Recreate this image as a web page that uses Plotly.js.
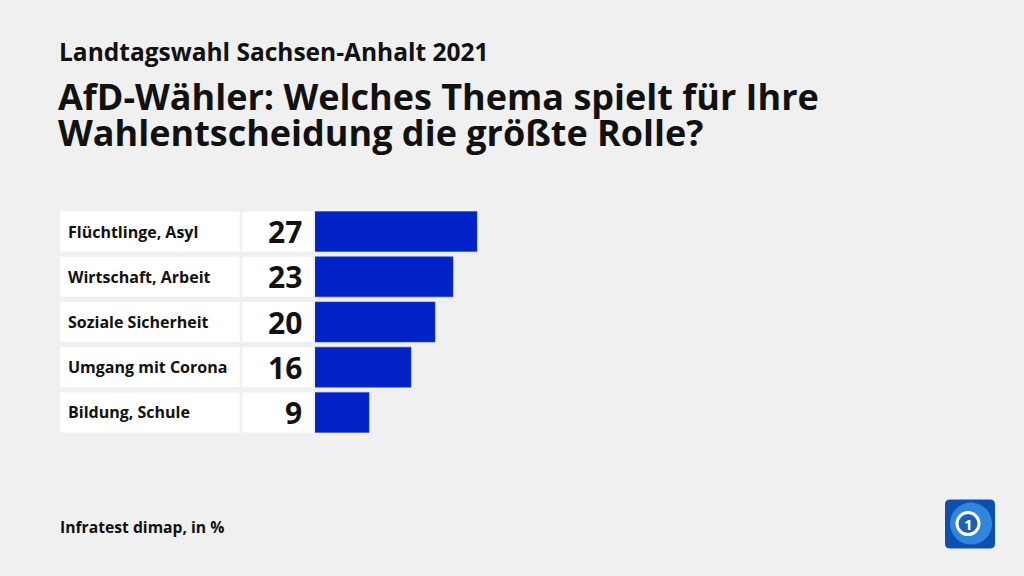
<!DOCTYPE html>
<html><head><meta charset="utf-8">
<script src="https://cdn.plot.ly/plotly-3.0.1.min.js"></script>
<style>html,body{margin:0;padding:0;background:#f0f0f0;}#chart{width:1024px;height:576px;}</style>
</head><body><div id="chart"></div>
<script>
const categories = ["Flüchtlinge, Asyl", "Wirtschaft, Arbeit", "Soziale Sicherheit", "Umgang mit Corona", "Bildung, Schule"];
const values = [27, 23, 20, 16, 9];
const valueLabels = ["27", "23", "20", "16", "9"];
const supertitle = "Landtagswahl Sachsen-Anhalt 2021";
const titleLines = ["AfD-Wähler: Welches Thema spielt für Ihre", "Wahlentscheidung die größte Rolle?"];
const source = "Infratest dimap, in %";

const W = 1024, H = 576;
const L = 315, R = 9, T = 209.4, B = 140.6;
const PW = W - L - R, PH = H - T - B;
const px = x => (x - L) / PW;
const py = y => (H - B - y) / PH;
const FONT = "'Open Sans', 'Noto Sans', sans-serif";
const BLUE = "#0022c6";

const shapes = [];
const annotations = [];
categories.forEach((c, i) => {
  shapes.push({type: "rect", xref: "paper", yref: "y", x0: px(60), x1: px(239.5), y0: i - 0.4425, y1: i + 0.4425, fillcolor: "#ffffff", line: {width: 0}, layer: "below"});
  shapes.push({type: "rect", xref: "paper", yref: "y", x0: px(242.5), x1: px(313), y0: i - 0.4425, y1: i + 0.4425, fillcolor: "#ffffff", line: {width: 0}, layer: "below"});
  annotations.push({xref: "paper", yref: "y", x: px(66), y: i, xanchor: "left", yanchor: "middle", text: "<b>" + c + "</b>", showarrow: false, font: {family: FONT, size: 16, color: "#111"}});
  annotations.push({xref: "paper", yref: "y", x: px(304), y: i, xanchor: "right", yanchor: "middle", text: "<b>" + valueLabels[i] + "</b>", showarrow: false, font: {family: FONT, size: 30, color: "#111"}});
});
annotations.push({xref: "paper", yref: "paper", x: px(57), y: py(52), xanchor: "left", yanchor: "middle", text: "<b>" + supertitle + "</b>", showarrow: false, font: {family: FONT, size: 24.5, color: "#111"}});
annotations.push({xref: "paper", yref: "paper", x: px(56), y: py(97), xanchor: "left", yanchor: "middle", text: "<b>" + titleLines[0] + "</b>", showarrow: false, font: {family: FONT, size: 36, color: "#111"}});
annotations.push({xref: "paper", yref: "paper", x: px(56), y: py(133), xanchor: "left", yanchor: "middle", text: "<b>" + titleLines[1] + "</b>", showarrow: false, font: {family: FONT, size: 36, color: "#111"}});
annotations.push({xref: "paper", yref: "paper", x: px(58), y: py(527), xanchor: "left", yanchor: "middle", text: "<b>" + source + "</b>", showarrow: false, font: {family: FONT, size: 15.7, color: "#111"}});

// logo
function rrect(x0, y0, x1, y1, r) {
  const X = v => px(v), Y = v => py(v);
  return `M${X(x0 + r)},${Y(y0)} L${X(x1 - r)},${Y(y0)} Q${X(x1)},${Y(y0)} ${X(x1)},${Y(y0 + r)} L${X(x1)},${Y(y1 - r)} Q${X(x1)},${Y(y1)} ${X(x1 - r)},${Y(y1)} L${X(x0 + r)},${Y(y1)} Q${X(x0)},${Y(y1)} ${X(x0)},${Y(y1 - r)} L${X(x0)},${Y(y0 + r)} Q${X(x0)},${Y(y0)} ${X(x0 + r)},${Y(y0)} Z`;
}
shapes.push({type: "path", xref: "paper", yref: "paper", path: rrect(945, 500, 995, 549, 5), fillcolor: "#0d4fae", line: {width: 0}});
shapes.push({type: "circle", xref: "paper", yref: "paper", x0: px(950), x1: px(992), y0: py(545), y1: py(503), fillcolor: "#2f86dc", line: {width: 0}});
shapes.push({type: "circle", xref: "paper", yref: "paper", x0: px(957), x1: px(979), y0: py(535), y1: py(513), fillcolor: "#1a5fb8", line: {color: "#ffffff", width: 3}});
annotations.push({xref: "paper", yref: "paper", x: px(968), y: py(524), xanchor: "center", yanchor: "middle", text: "<b>1</b>", showarrow: false, font: {family: FONT, size: 15, color: "#ffffff"}});

const data = [{
  type: "bar", orientation: "h", y: categories, x: values,
  marker: {color: BLUE, line: {width: 0.6, color: "#2a48d4"}}, width: 0.885,
  hoverinfo: "x+y"
}];
const layout = {
  width: W, height: H,
  paper_bgcolor: "#f0f0f0", plot_bgcolor: "#f0f0f0",
  margin: {l: L, r: R, t: T, b: B, pad: 0},
  xaxis: {range: [0, PW / 6], visible: false, fixedrange: true},
  yaxis: {type: "category", categoryarray: categories, range: [4.5, -0.5], visible: false, fixedrange: true},
  showlegend: false, bargap: 0,
  shapes: shapes, annotations: annotations
};
Plotly.newPlot("chart", data, layout, {displayModeBar: false, staticPlot: true});
</script>
</body></html>
